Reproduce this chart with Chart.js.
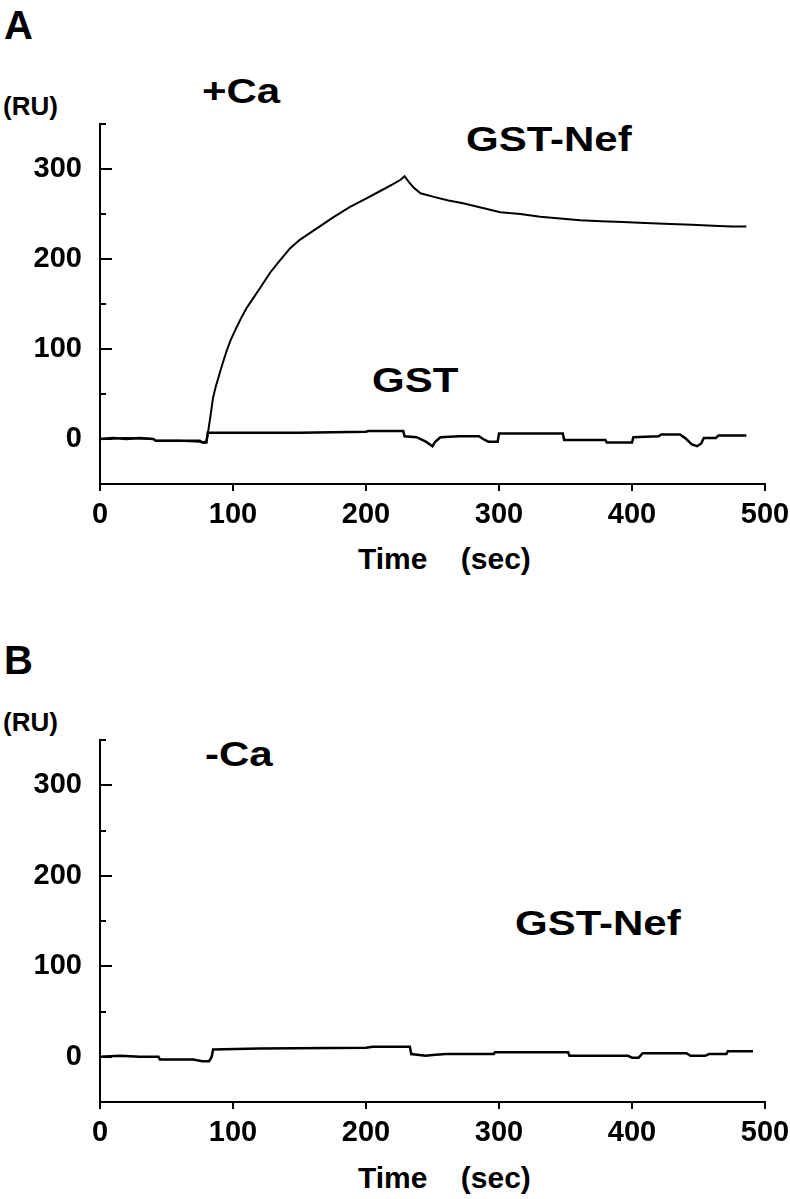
<!DOCTYPE html>
<html>
<head>
<meta charset="utf-8">
<script src="https://cdn.jsdelivr.net/npm/chart.js@4.4.1/dist/chart.umd.min.js"></script>
<style>
  html, body { margin: 0; padding: 0; background: #fff; }
  #page { position: relative; width: 790px; height: 1199px; overflow: hidden; }
  .txt { position: absolute; font-family: "Liberation Sans", Arial, Helvetica, sans-serif;
         font-weight: bold; color: #000; line-height: 1; white-space: pre; }
  .wide { font-size: 35px; transform: scaleX(1.2); transform-origin: left top; }
  .panel { position: absolute; left: 0; width: 790px; }
</style>
</head>
<body>
<div id="page">
  <div class="txt" style="left:4px;top:5px;font-size:40px">A</div>
  <div class="txt" style="left:3px;top:93px;font-size:26px">(RU)</div>
  <div class="txt wide" style="left:202px;top:73px">+Ca</div>
  <div class="txt wide" style="left:466px;top:121px">GST-Nef</div>
  <div class="txt wide" style="left:372px;top:362px">GST</div>
  <div class="txt" style="left:358px;top:544px;font-size:30px">Time    (sec)</div>
  <div class="panel" style="top:100px;height:480px"><canvas id="chartA" width="790" height="480"></canvas></div>

  <div class="txt" style="left:4px;top:640px;font-size:40px">B</div>
  <div class="txt" style="left:3px;top:709px;font-size:26px">(RU)</div>
  <div class="txt wide" style="left:205px;top:736px">-Ca</div>
  <div class="txt wide" style="left:515px;top:905px">GST-Nef</div>
  <div class="txt" style="left:358px;top:1163px;font-size:30px">Time    (sec)</div>
  <div class="panel" style="top:716px;height:483px"><canvas id="chartB" width="790" height="483"></canvas></div>
</div>

<script>
// tick labels
const xTickLabels = [0, 100, 200, 300, 400, 500];
const yTickLabels = [0, 100, 200, 300];

// A (+Ca): GST-Nef sensorgram
const timeNefA = [0, 20, 40, 42, 60, 75, 78, 80, 81, 83, 85, 87, 89, 92, 95, 98, 102, 106, 110, 115, 120,
  128, 135, 143, 150, 158, 165, 175, 188, 200, 210, 220, 226, 229, 232, 236, 241, 251, 262, 273, 287,
  301, 316, 331, 346, 361, 377, 393, 410, 429, 445, 461, 475, 486];
const ruNefA = [0, 1, 0, -2, -2, -3, -4, -2, 5, 25, 46, 58, 68, 83, 97, 109, 122, 134, 145, 156, 167,
  185, 198, 212, 221, 229, 236, 246, 258, 267, 275, 283, 288, 292, 286, 279, 273, 269, 265, 262, 257,
  252, 250, 247, 245, 243, 242, 241, 240, 239, 238, 237, 236, 236];

// A (+Ca): GST control
const timeGstA = [0, 10, 20, 30, 40, 42, 60, 75, 77, 80, 81, 100, 150, 200, 202, 228, 229, 238, 245, 250,
  252, 256, 270, 285, 288, 292, 299, 300, 348, 349, 380, 381, 400, 401, 420, 422, 436, 440, 445, 449,
  452, 454, 463, 465, 486];
const ruGstA = [0, 1, 0, 1, 0, -2, -2, -2, -4, -4, 7, 7, 7, 8, 9, 9, 3, 2, -3, -8,
  -3, 2, 3, 3, 0, -3, -3, 6, 6, -1, -1, -4, -4, 2, 3, 5, 5, 1, -6, -8,
  -5, 1, 1, 4, 4];

// B (-Ca): GST-Nef sensorgram
const timeNefB = [0, 15, 30, 44, 45, 70, 77, 82, 84, 85, 120, 200, 205, 233, 234, 245, 250, 260, 296, 297,
  352, 353, 397, 400, 405, 408, 441, 444, 455, 458, 471, 472, 491];
const ruNefB = [0, 1, 0, 0, -3, -3, -5, -5, 0, 8, 9, 10, 11, 11, 3, 1, 2, 3, 3, 5,
  5, 1, 1, -1, -1, 4, 4, 1, 1, 3, 3, 6, 6];

function pts(xs, ys) {
  return xs.map((t, i) => ({ x: t, y: ys[i] }));
}

const font = { family: '"Liberation Sans", Arial, Helvetica, sans-serif', size: 29, weight: 'bold' };

// ticks drawn inward on the y axis, downward on the x axis
const tickMarks = {
  id: 'tickMarks',
  afterDraw(chart) {
    const { ctx, chartArea } = chart;
    const x = chart.scales.x, y = chart.scales.y;
    ctx.save();
    ctx.strokeStyle = '#000';
    ctx.lineWidth = 2;
    ctx.beginPath();
    y.ticks.forEach(t => {
      const py = Math.round(y.getPixelForValue(t.value));
      const len = t.value % 100 === 0 ? 12 : 6;
      ctx.moveTo(chartArea.left, py);
      ctx.lineTo(chartArea.left + len, py);
    });
    x.ticks.forEach(t => {
      const px = Math.round(x.getPixelForValue(t.value));
      ctx.moveTo(px, chartArea.bottom);
      ctx.lineTo(px, chartArea.bottom + 7);
    });
    ctx.stroke();
    ctx.restore();
  }
};

function makeChart(id, datasets, padBottom) {
  return new Chart(document.getElementById(id), {
    type: 'line',
    data: { datasets },
    options: {
      responsive: false,
      animation: false,
      events: [],
      layout: { padding: { left: 0, right: 25, top: 24, bottom: padBottom } },
      plugins: { legend: { display: false }, tooltip: { enabled: false } },
      elements: { point: { radius: 0 }, line: { tension: 0, borderWidth: 2, borderColor: '#000' } },
      scales: {
        x: {
          type: 'linear',
          min: 0,
          max: 500,
          grid: { display: false, drawTicks: false },
          border: { display: true, color: '#000', width: 2 },
          ticks: {
            stepSize: 100,
            padding: 14,
            color: '#000',
            font,
            callback: v => xTickLabels.includes(v) ? String(v) : ''
          },
          afterFit: s => { s.height = 80; s.paddingLeft = 0; s.paddingRight = 0; }
        },
        y: {
          min: -50,
          max: 350,
          grid: { display: false, drawTicks: false },
          border: { display: true, color: '#000', width: 2 },
          ticks: {
            stepSize: 50,
            padding: 18,
            color: '#000',
            font,
            callback: v => yTickLabels.includes(v) ? String(v) : ''
          },
          afterFit: s => { s.width = 100; s.paddingTop = 0; s.paddingBottom = 0; }
        }
      }
    },
    plugins: [tickMarks]
  });
}

makeChart('chartA', [
  { label: 'GST-Nef', data: pts(timeNefA, ruNefA), borderColor: '#000', borderWidth: 2 },
  { label: 'GST', data: pts(timeGstA, ruGstA), borderColor: '#000', borderWidth: 2.5 }
], 16);

makeChart('chartB', [
  { label: 'GST-Nef', data: pts(timeNefB, ruNefB), borderColor: '#000', borderWidth: 2.5 }
], 17);
</script>
</body>
</html>
